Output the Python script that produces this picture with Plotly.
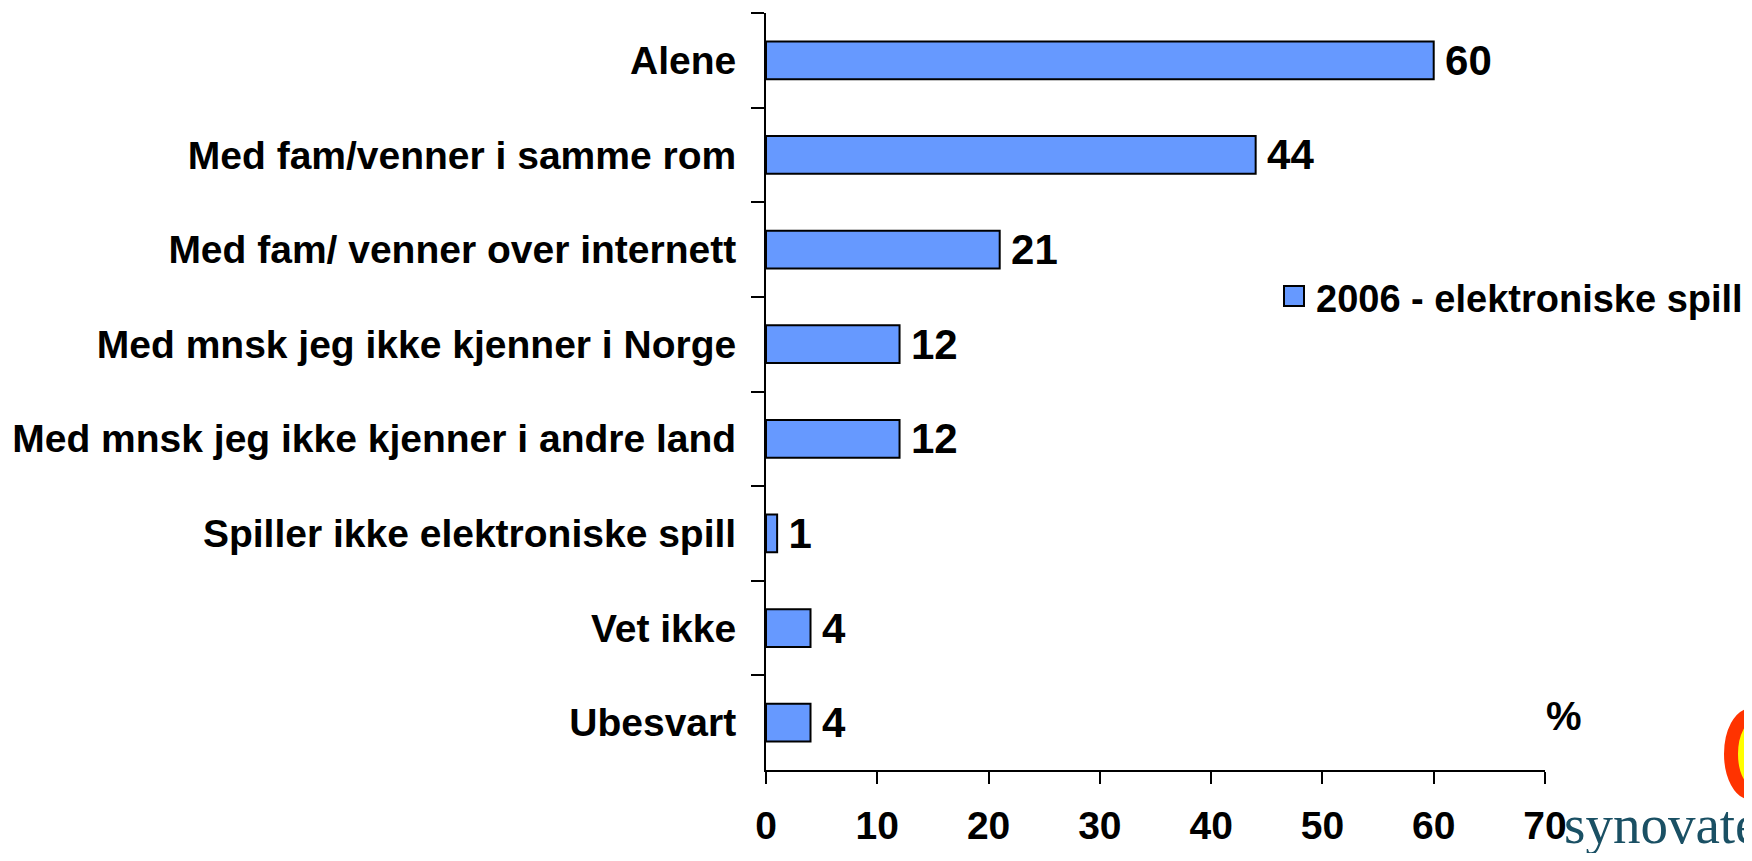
import plotly.graph_objects as go

categories = [
    "Alene",
    "Med fam/venner i samme rom",
    "Med fam/ venner over internett",
    "Med mnsk jeg ikke kjenner i Norge",
    "Med mnsk jeg ikke kjenner i andre land",
    "Spiller ikke elektroniske spill",
    "Vet ikke",
    "Ubesvart",
]
values_2006 = [60, 44, 21, 12, 12, 1, 4, 4]
series_name = "2006 - elektroniske spill"
x_ticks = [0, 10, 20, 30, 40, 50, 60, 70]

# page body has an 8px margin; figure is sized to fit the 1752x861 window
OFF = 8
W, H = 1752 - 2 * OFF, 861 - 2 * OFF
L = 766 - OFF
R = W - (1545 - OFF)
T = 13 - OFF
B = H - (770 - OFF)
pw, ph = W - L - R, H - T - B

def px(x):
    return ((x - OFF) - L) / pw

def py(y):
    return (H - B - (y - OFF)) / ph

FONT = "Liberation Sans, Arial, sans-serif"
BAR_COLOR = "#6699FF"

fig = go.Figure()
fig.add_trace(go.Bar(
    y=categories,
    x=values_2006,
    orientation="h",
    name=series_name,
    marker=dict(color=BAR_COLOR, line=dict(color="#000000", width=2)),
    text=values_2006,
    texttemplate="\u2009%{x}",
    textposition="outside",
    constraintext="none",
    cliponaxis=False,
    textfont=dict(family=FONT, size=42, color="#000000", weight="bold"),
    showlegend=True,
))

fig.update_layout(
    width=W, height=H,
    margin=dict(l=L, r=R, t=T, b=B, autoexpand=False),
    paper_bgcolor="white",
    plot_bgcolor="white",
    bargap=0.6,
    font=dict(family=FONT, color="#000000"),
    legend=dict(
        xref="paper", yref="paper",
        x=px(1268), y=py(297), xanchor="left", yanchor="middle",
        itemwidth=38,
        font=dict(family=FONT, size=38, color="#000000", weight="bold"),
        bgcolor="rgba(0,0,0,0)",
    ),
    xaxis=dict(
        range=[0, 70],
        tickmode="array", tickvals=x_ticks, ticktext=[str(t) for t in x_ticks],
        showgrid=False, zeroline=False,
        showline=True, linecolor="#000000", linewidth=2,
        ticks="outside", ticklen=12, tickwidth=2, tickcolor="#000000",
        tickfont=dict(family=FONT, size=39, color="#000000", weight="bold"),
        ticklabelstandoff=8,
    ),
    yaxis=dict(
        autorange="reversed",
        showgrid=False, zeroline=False,
        showline=True, linecolor="#000000", linewidth=2,
        ticks="outside", ticklen=13, tickwidth=2, tickcolor="#000000",
        tickson="boundaries",
        tickfont=dict(family=FONT, size=39, color="#000000", weight="bold"),
        ticklabelstandoff=20,
    ),
)

# larger legend swatch drawn over the (small) built-in legend symbol
fig.add_annotation(
    text="", xref="paper", yref="paper", x=px(1293.5), y=py(295.5),
    xanchor="center", yanchor="middle", showarrow=False,
    width=18, height=18, borderpad=0, borderwidth=2,
    bordercolor="#000000", bgcolor=BAR_COLOR,
)

# "%" unit label
fig.add_annotation(
    text="%", xref="paper", yref="paper", x=px(1564), y=py(716),
    xanchor="center", yanchor="middle", showarrow=False,
    font=dict(family=FONT, size=40, color="#000000", weight="bold"),
)

# synovate logo (approximation)
fig.add_shape(
    type="circle", xref="paper", yref="paper",
    x0=px(1731), x1=px(1773), y0=py(793), y1=py(715),
    line=dict(color="#FF3300", width=14), fillcolor="#FFFF00",
)
fig.add_annotation(
    text="synovate", xref="paper", yref="paper", x=px(1562), y=py(824),
    xanchor="left", yanchor="middle", showarrow=False,
    font=dict(family="Liberation Serif, Times New Roman, serif", size=55, color="#1A5064"),
)

fig.write_html("out.html")
